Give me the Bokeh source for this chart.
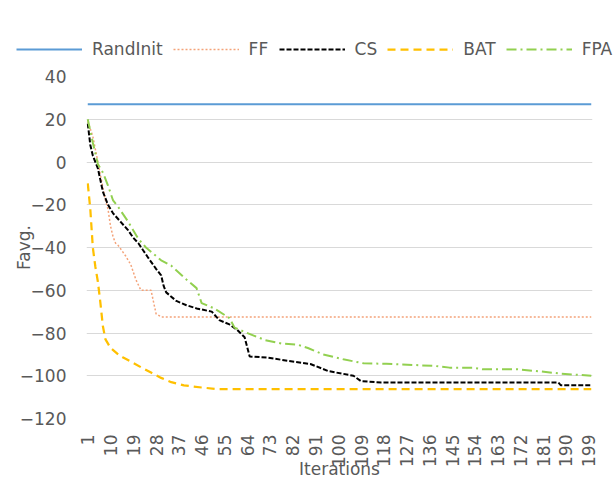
from math import pi
from bokeh.plotting import figure
from bokeh.models import Range1d, FixedTicker, Legend, LegendItem
from bokeh.embed import file_html
from bokeh.resources import INLINE

# ---- data ----
x_ticks = [1, 10, 19, 28, 37, 46, 55, 64, 73, 82, 91, 100, 109, 118, 127, 136,
           145, 154, 163, 172, 181, 190, 199]
y_ticks = [-120, -100, -80, -60, -40, -20, 0, 20, 40]

randinit_it = [1, 200]
randinit_val = [27, 27]

ff_it = [1, 3, 6, 8, 9, 10, 11, 12, 13, 16, 18, 20, 22, 26, 28, 30, 200]
ff_val = [19, 12, -6, -18, -22, -30, -35, -38, -39, -44, -48, -55, -60, -60, -71, -72.5, -72.5]

cs_it = [1, 2, 3, 5, 7, 9, 11, 14, 17, 19, 21, 23, 25, 28, 30, 31, 32, 36, 40, 44,
         50, 53, 57, 60, 63, 65, 72, 80, 89, 96, 106, 109, 117, 187, 188, 200]
cs_val = [18, 8, 3, -3, -14, -20, -24, -28, -32, -35.5, -38, -41.5, -45, -50, -53, -58,
          -61, -65, -67, -68.5, -70, -74, -76, -78.5, -82, -91, -91.5, -93, -94.5,
          -97.8, -100, -102.5, -103.2, -103.2, -104.5, -104.5]

bat_it = [1, 2, 3, 4, 5, 6, 7, 8, 9, 10, 13, 15, 19, 22, 26, 30, 34, 39, 46, 52, 200]
bat_val = [-10, -22, -40, -49, -56, -66, -77, -83, -85, -87, -90, -91.5, -94, -96,
           -98.5, -101, -103, -104.5, -105.5, -106.2, -106.2]

fpa_it = [1, 3, 5, 7, 9, 11, 13, 17, 21, 24, 27, 30, 34, 40, 44, 46, 51, 57, 59, 63,
          71, 78, 84, 88, 94, 102, 110, 119, 138, 144, 153, 157, 171, 180, 188, 200]
fpa_val = [20, 9, -1, -5, -11, -18, -21, -28, -36, -40, -43, -46, -48.5, -55, -59, -66,
           -68.5, -73, -77.5, -79.5, -83.3, -85, -85.5, -87, -90, -92.3, -94.2, -94.4,
           -95.4, -96.2, -96.2, -97, -97, -98, -99, -100]

series = [
    ("RandInit", randinit_it, randinit_val, dict(line_color="#5B9BD5", line_width=2)),
    ("FF", ff_it, ff_val, dict(line_color="#F4A37A", line_width=1.5, line_dash="2 2")),
    ("CS", cs_it, cs_val, dict(line_color="#000000", line_width=2, line_dash="5 2")),
    ("BAT", bat_it, bat_val, dict(line_color="#FFC000", line_width=2.25, line_dash="8 5")),
    ("FPA", fpa_it, fpa_val, dict(line_color="#92D050", line_width=2, line_dash="10 4 2 4")),
]

FONT = "DejaVu Sans"
FS = "17px"
TXT = "#595959"
W = 616
LEG_H = 60

# ---- main chart ----
p = figure(width=W, height=487 - LEG_H, output_backend="svg", toolbar_location=None,
           x_range=Range1d(0.5, 200.5), y_range=Range1d(-120, 40),
           min_border_left=86, min_border_right=24, min_border_top=76 - LEG_H,
           min_border_bottom=69)
p.outline_line_color = None
p.background_fill_color = "white"
p.border_fill_color = "white"
p.xgrid.grid_line_color = None
p.ygrid.grid_line_color = "#D9D9D9"
p.ygrid.grid_line_width = 1

for name, xs, ys, style in series:
    p.line(xs, ys, **style)

p.xaxis.ticker = FixedTicker(ticks=x_ticks)
p.yaxis.ticker = FixedTicker(ticks=y_ticks)
for ax in (p.xaxis[0], p.yaxis[0]):
    ax.axis_line_color = None
    ax.major_tick_line_color = None
    ax.minor_tick_line_color = None
    ax.major_label_text_font = FONT
    ax.major_label_text_font_size = FS
    ax.major_label_text_color = TXT
    ax.axis_label_text_font = FONT
    ax.axis_label_text_font_size = FS
    ax.axis_label_text_color = TXT
    ax.axis_label_text_font_style = "normal"

p.xaxis.major_label_orientation = pi / 2
p.xaxis.major_label_standoff = 10
p.xaxis.axis_label = "Iterations"
p.xaxis.axis_label_standoff = -11

p.yaxis.major_label_standoff = 14
p.yaxis.axis_label = "Favg."
p.yaxis.axis_label_standoff = -17

# ---- legend strip (same series, drawn out of view so only the legend shows) ----
lf = figure(width=W, height=LEG_H, output_backend="svg", toolbar_location=None,
            x_range=Range1d(1000, 1001), y_range=Range1d(1000, 1001),
            x_axis_location=None, y_axis_location=None, min_border=0)
lf.grid.grid_line_color = None
lf.outline_line_color = None
lf.background_fill_color = "white"
lf.border_fill_color = "white"
items = []
for name, xs, ys, style in series:
    r = lf.line(xs, ys, **style)
    items.append(LegendItem(label=name, renderers=[r]))

legend = Legend(items=items, location=(16, 1), orientation="horizontal")
legend.border_line_color = None
legend.background_fill_alpha = 0
legend.padding = 0
legend.margin = 0
legend.glyph_width = 66
legend.glyph_height = 20
legend.label_standoff = 10
legend.spacing = 10
legend.label_text_font = FONT
legend.label_text_font_size = FS
legend.label_text_color = TXT
lf.add_layout(legend, "center")

open("out.html", "w").write(file_html([lf, p], INLINE))
